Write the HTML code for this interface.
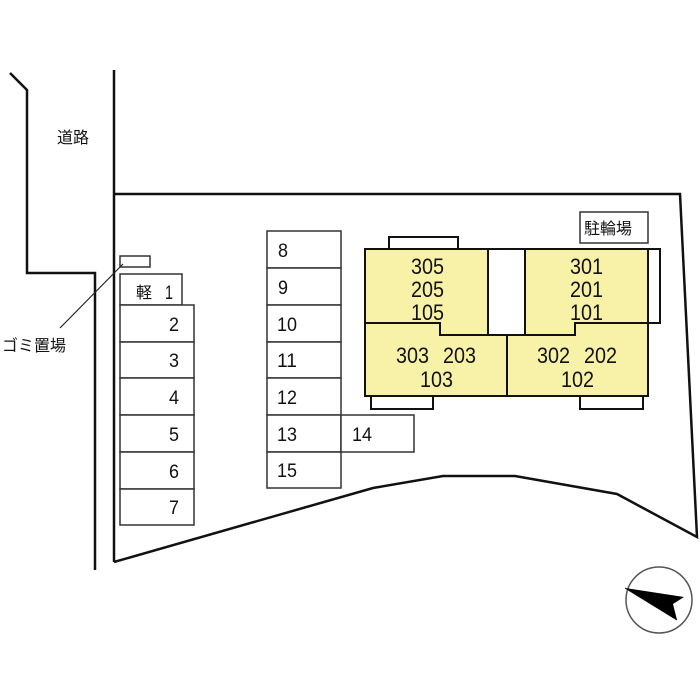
<!DOCTYPE html>
<html><head><meta charset="utf-8"><style>
html,body{margin:0;padding:0;background:#fff;}
svg{display:block;}
text{font-family:"Liberation Sans","Noto Sans CJK JP",sans-serif;fill:#111;}
</style></head><body>
<svg width="700" height="700" viewBox="0 0 700 700" xmlns="http://www.w3.org/2000/svg">
<g fill="none" stroke="#111" stroke-width="2.5">
<polyline points="10,73 27,90 27,273 95,273 95,570"/>
<line x1="114" y1="70" x2="114" y2="562"/>
<polyline points="114,194 680,194 697,537 617,494 515,476 443,476 373,488 114,562"/>
</g>
<g fill="#fff" stroke="#333" stroke-width="1.5">
<rect x="120" y="256" width="30" height="11"/>
<rect x="120" y="274" width="62" height="31"/>
<rect x="120" y="305" width="74" height="37"/>
<rect x="120" y="342" width="74" height="36"/>
<rect x="120" y="378" width="74" height="37"/>
<rect x="120" y="415" width="74" height="37"/>
<rect x="120" y="452" width="74" height="37"/>
<rect x="120" y="489" width="74" height="36"/>
<rect x="267" y="231" width="74" height="37"/>
<rect x="267" y="268" width="74" height="37"/>
<rect x="267" y="305" width="74" height="37"/>
<rect x="267" y="342" width="74" height="36"/>
<rect x="267" y="378" width="74" height="37"/>
<rect x="267" y="415" width="74" height="37"/>
<rect x="267" y="452" width="74" height="36"/>
<rect x="341" y="415" width="73" height="37"/>
<rect x="580" y="212" width="68" height="31"/>
</g>
<line x1="123" y1="264" x2="60" y2="328" stroke="#222" stroke-width="1.2"/>
<g stroke="#111" stroke-width="2" fill="#fff">
<rect x="389" y="237" width="69" height="12"/>
<rect x="371" y="396" width="62" height="13"/>
<rect x="580" y="396" width="63" height="13"/>
<rect x="648" y="249" width="12" height="74"/>
</g>
<g stroke="#111" stroke-width="2" fill="#f8f1a8">
<rect x="365" y="249" width="123" height="74"/>
<rect x="525" y="249" width="123" height="74"/>
<rect x="365" y="323" width="142" height="73"/>
<rect x="507" y="323" width="141" height="73"/>
</g>
<rect x="366" y="322" width="73" height="2" fill="#111"/>
<rect x="441" y="320" width="133" height="14" fill="#f8f1a8"/>
<rect x="576" y="322" width="71" height="2" fill="#111"/>
<polyline points="440,323 440,335 575,335 575,323" fill="none" stroke="#111" stroke-width="2"/>
<rect x="488" y="249" width="37" height="86" fill="#fff" stroke="#111" stroke-width="2"/>
<line x1="507" y1="335" x2="507" y2="396" stroke="#111" stroke-width="2"/>
<g font-size="22" lengthAdjust="spacingAndGlyphs">
<text x="411" y="274" textLength="33" lengthAdjust="spacingAndGlyphs">305</text>
<text x="411" y="297" textLength="33" lengthAdjust="spacingAndGlyphs">205</text>
<text x="411" y="320" textLength="33" lengthAdjust="spacingAndGlyphs">105</text>
<text x="570" y="274" textLength="33" lengthAdjust="spacingAndGlyphs">301</text>
<text x="570" y="297" textLength="33" lengthAdjust="spacingAndGlyphs">201</text>
<text x="570" y="320" textLength="33" lengthAdjust="spacingAndGlyphs">101</text>
<text x="396" y="363" textLength="33" lengthAdjust="spacingAndGlyphs">303</text>
<text x="443" y="363" textLength="33" lengthAdjust="spacingAndGlyphs">203</text>
<text x="420" y="387" textLength="33" lengthAdjust="spacingAndGlyphs">103</text>
<text x="537" y="363" textLength="33" lengthAdjust="spacingAndGlyphs">302</text>
<text x="584" y="363" textLength="33" lengthAdjust="spacingAndGlyphs">202</text>
<text x="561" y="387" textLength="33" lengthAdjust="spacingAndGlyphs">102</text>
</g>
<g font-size="16">
<text x="584" y="234">駐輪場</text>
<text x="57" y="143">道路</text>
<text x="2" y="351">ゴミ置場</text>
<text x="136" y="298">軽</text>
</g>
<g font-size="19">
<text x="165" y="299" textLength="8" lengthAdjust="spacingAndGlyphs">1</text>
<text x="169" y="331" textLength="10" lengthAdjust="spacingAndGlyphs">2</text>
<text x="169" y="367" textLength="10" lengthAdjust="spacingAndGlyphs">3</text>
<text x="169" y="404" textLength="10" lengthAdjust="spacingAndGlyphs">4</text>
<text x="169" y="441" textLength="10" lengthAdjust="spacingAndGlyphs">5</text>
<text x="169" y="478" textLength="10" lengthAdjust="spacingAndGlyphs">6</text>
<text x="169" y="514" textLength="10" lengthAdjust="spacingAndGlyphs">7</text>
<text x="278" y="257" textLength="10" lengthAdjust="spacingAndGlyphs">8</text>
<text x="278" y="294" textLength="10" lengthAdjust="spacingAndGlyphs">9</text>
<text x="277" y="331" textLength="20" lengthAdjust="spacingAndGlyphs">10</text>
<text x="277" y="367" textLength="20" lengthAdjust="spacingAndGlyphs">11</text>
<text x="277" y="404" textLength="20" lengthAdjust="spacingAndGlyphs">12</text>
<text x="277" y="441" textLength="20" lengthAdjust="spacingAndGlyphs">13</text>
<text x="277" y="477" textLength="20" lengthAdjust="spacingAndGlyphs">15</text>
<text x="352" y="441" textLength="20" lengthAdjust="spacingAndGlyphs">14</text>
</g>
<circle cx="659" cy="600" r="33" fill="none" stroke="#555" stroke-width="1.5"/>
<polygon points="625,588 684,597 673,604 677,620" fill="#000"/>
<line x1="625" y1="588" x2="677" y2="620" stroke="#000" stroke-width="1"/>
</svg>
</body></html>
